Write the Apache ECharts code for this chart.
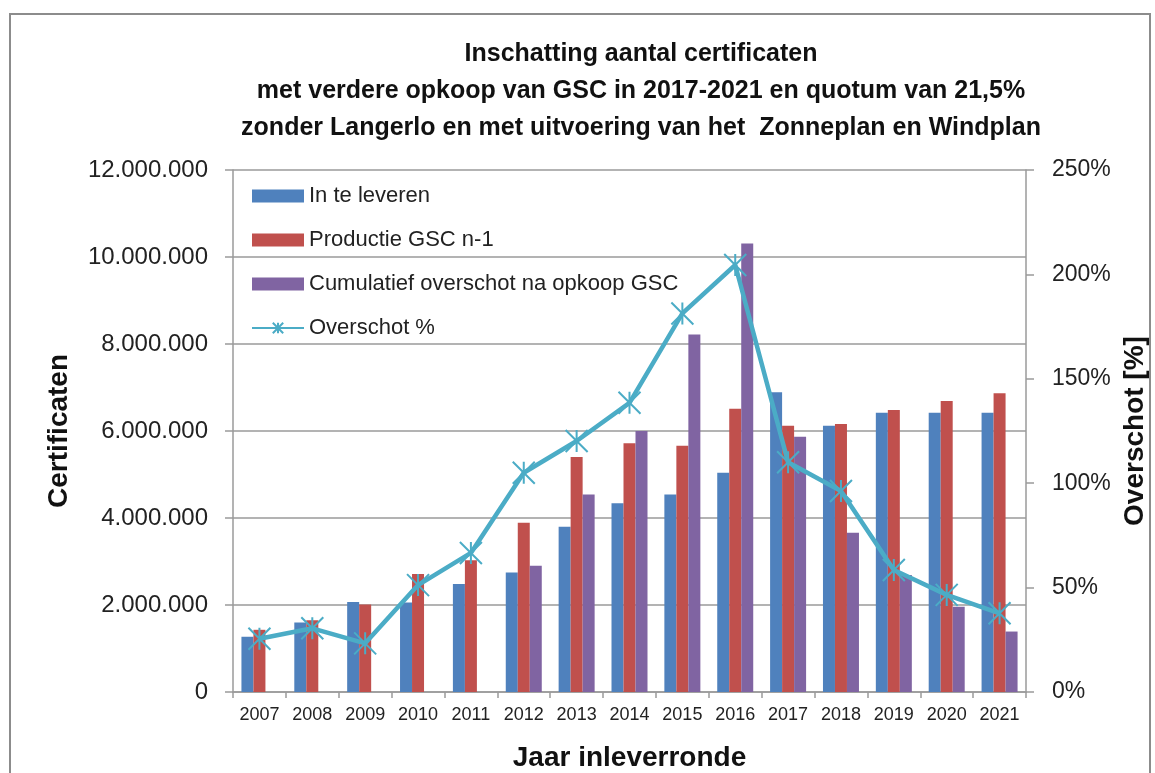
<!DOCTYPE html>
<html>
<head>
<meta charset="utf-8">
<script src="https://cdn.jsdelivr.net/npm/echarts@6/dist/echarts.min.js"></script>
<style>
  html, body { margin: 0; padding: 0; background: #fff; }
  #chart { width: 1155px; height: 773px; }
</style>
</head>
<body>
<div id="chart"></div>
<script>
// data
const years = ['2007', '2008', '2009', '2010', '2011', '2012', '2013', '2014',
  '2015', '2016', '2017', '2018', '2019', '2020', '2021'];
const inTeLeveren = [1270000, 1600000, 2070000, 2060000, 2480000, 2750000, 3800000, 4340000,
  4540000, 5040000, 6890000, 6120000, 6420000, 6420000, 6420000];
const productieGSC = [1430000, 1650000, 2010000, 2710000, 3030000, 3890000, 5400000, 5720000,
  5660000, 6510000, 6120000, 6160000, 6480000, 6690000, 6870000];
const cumulOverschot = [null, null, null, null, null, 2900000, 4540000, 6000000,
  8220000, 10310000, 5870000, 3660000, 2690000, 1960000, 1390000];
const overschotPct = [25.5, 30.5, 23.3, 51.2, 66.6, 105, 120.2, 138.5,
  181.3, 204.5, 110, 96.3, 58.4, 46.5, 37.7];

const titleLines = [
  'Inschatting aantal certificaten',
  'met verdere opkoop van GSC in 2017-2021 en quotum van 21,5%',
  'zonder Langerlo en met uitvoering van het  Zonneplan en Windplan'
];

const regular = "'Liberation Sans', Arial, sans-serif";
const gridGray = '#9a9a9a';

function dotted(v) {
  return String(Math.round(v)).replace(/\B(?=(\d{3})+(?!\d))/g, '.');
}

const chart = echarts.init(document.getElementById('chart'));

const star = 'path://M0,0L10,10M10,0L0,10M5,0L5,10';

chart.setOption({
  animation: false,
  backgroundColor: '#fff',
  title: {
    text: titleLines.join('\n'),
    left: 636,
    textAlign: 'center',
    top: 31,
    textStyle: {
      fontFamily: regular,
      fontWeight: 'bold',
      fontSize: 25,
      lineHeight: 37,
      color: '#111'
    }
  },
  graphic: [{
    type: 'rect',
    shape: { x: 10, y: 14, width: 1140, height: 800 },
    style: { fill: 'none', stroke: '#8c8c8c', lineWidth: 2 },
    silent: true,
    z: -10
  }],
  legend: {
    orient: 'vertical',
    left: 246,
    top: 180,
    itemWidth: 52,
    itemHeight: 13,
    itemGap: 22,
    textStyle: { fontFamily: regular, fontSize: 22, color: '#222', lineHeight: 22 },
    data: [
      { name: 'In te leveren', icon: 'rect' },
      { name: 'Productie GSC n-1', icon: 'rect' },
      { name: 'Cumulatief overschot na opkoop GSC', icon: 'rect' },
      { name: 'Overschot %' }
    ]
  },
  grid: { left: 233, right: 129, top: 170, bottom: 81, outerBoundsMode: 'none', containLabel: false },
  xAxis: {
    type: 'category',
    data: years,
    name: 'Jaar inleverronde',
    nameLocation: 'middle',
    nameGap: 52,
    nameTextStyle: { fontFamily: regular, fontWeight: 'bold', fontSize: 28, color: '#111' },
    axisLine: { lineStyle: { color: gridGray, width: 1.5 } },
    axisTick: { show: true, length: 6, lineStyle: { color: gridGray, width: 1.5 } },
    axisLabel: { fontFamily: regular, fontSize: 18, color: '#222', margin: 14 }
  },
  yAxis: [{
    type: 'value',
    min: 0,
    max: 12000000,
    interval: 2000000,
    name: 'Certificaten',
    nameLocation: 'middle',
    nameGap: 160,
    nameTextStyle: { fontFamily: regular, fontWeight: 'bold', fontSize: 28, color: '#111' },
    axisLine: { show: true, lineStyle: { color: gridGray, width: 1.5 } },
    axisTick: { show: true, length: 8, lineStyle: { color: gridGray, width: 1.5 } },
    axisLabel: { fontFamily: regular, fontSize: 24, color: '#222', margin: 25, formatter: dotted },
    splitLine: { lineStyle: { color: gridGray, width: 1.5 } }
  }, {
    type: 'value',
    min: 0,
    max: 250,
    interval: 50,
    position: 'right',
    name: 'Overschot [%]',
    nameLocation: 'middle',
    nameGap: 95,
    nameTextStyle: { fontFamily: regular, fontWeight: 'bold', fontSize: 28, color: '#111' },
    axisLine: { show: true, lineStyle: { color: gridGray, width: 1.5 } },
    axisTick: { show: true, length: 8, lineStyle: { color: gridGray, width: 1.5 } },
    axisLabel: { fontFamily: regular, fontSize: 23, color: '#222', margin: 26, formatter: '{value}%' },
    splitLine: { show: false }
  }],
  series: [{
    name: 'In te leveren',
    type: 'bar',
    data: inTeLeveren,
    barWidth: 12,
    barGap: '0%',
    itemStyle: { color: '#4F81BD' }
  }, {
    name: 'Productie GSC n-1',
    type: 'bar',
    data: productieGSC,
    barWidth: 12,
    barGap: '0%',
    itemStyle: { color: '#C0504D' }
  }, {
    name: 'Cumulatief overschot na opkoop GSC',
    type: 'bar',
    data: cumulOverschot,
    barWidth: 12,
    barGap: '0%',
    itemStyle: { color: '#8064A2' }
  }, {
    name: 'Overschot %',
    type: 'line',
    yAxisIndex: 1,
    data: overschotPct,
    symbol: star,
    symbolSize: 22,
    lineStyle: { color: '#4BACC6', width: 4.5 },
    itemStyle: { color: 'none', borderColor: '#4BACC6', borderWidth: 2 },
    z: 5
  }]
});
</script>
</body>
</html>
